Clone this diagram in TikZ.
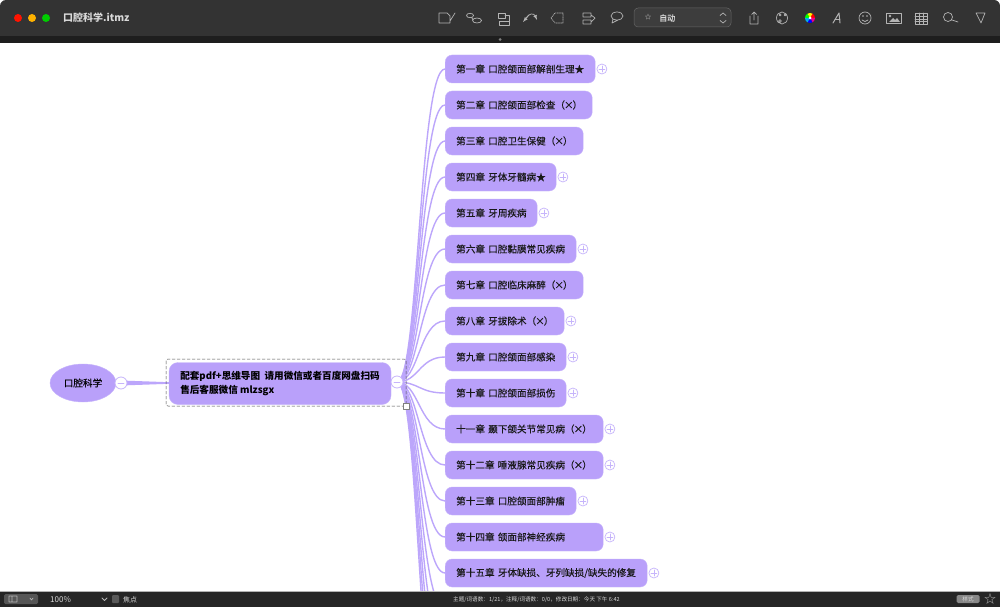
\documentclass[tikz,border=0pt]{standalone}
\usepackage{fontspec}
\usetikzlibrary{shapes.geometric}
\setmainfont{Noto Sans CJK SC}
\newfontfamily\topicfont[FakeBold=0.25]{Noto Sans CJK SC}
\def\crossmark{\kern-1pt ×\kern-1pt}
\definecolor{topicfill}{HTML}{B9A0FA}
\definecolor{topicedge}{HTML}{C6B4FB}
\definecolor{branchline}{HTML}{BCA6FB}
\definecolor{barcolor}{HTML}{333333}
\definecolor{sashcolor}{HTML}{1E1E1E}
\definecolor{footcolor}{HTML}{262626}
\definecolor{iconcolor}{HTML}{B4B4B4}
\tikzset{
  chapter/.style={draw=topicedge,fill=topicfill,rounded corners=7pt,minimum height=28pt,inner xsep=11pt,inner ysep=0pt,anchor=west,align=left,font=\topicfont\fontsize{9.6}{11}\selectfont,text=black!90},
  plusbtn/.style={circle,draw=topicedge,fill=white,line width=.7pt,minimum size=10pt,inner sep=0pt},
  minusbtn/.style={circle,draw=topicedge,fill=white,line width=.8pt,minimum size=12pt,inner sep=0pt},
  branch/.style={draw=branchline,line width=1.4pt},
  toolicon/.style={draw=iconcolor,line width=.7pt},
  barlabel/.style={text=white!85!black,inner sep=0pt}
}
\begin{document}
\begin{tikzpicture}[x=1pt,y=-1pt,line cap=round,line join=round]
  \useasboundingbox (0,0) rectangle (1000,607);
  \fill[white] (0,0) rectangle (1000,607);
  % mind map
  \node[draw=topicedge,fill=topicfill,ellipse,minimum width=66pt,minimum height=38pt,inner sep=0pt,font=\topicfont\fontsize{9.6}{11}\selectfont] (root) at (83,383) {口腔科学};
  \node[draw=topicedge,fill=topicfill,rounded corners=9pt,minimum width=222pt,minimum height=42pt,inner xsep=11pt,inner ysep=0pt,align=left,font=\fontsize{9.6}{14}\selectfont\bfseries] (central) at (280,383.5) {\mbox{配套pdf+思维导图\ \ 请用微信或者百度网盘扫码}\\售后客服微信 mlzsgx\hfill\null};
  \coordinate (hub) at (397,382);
  \coordinate (rootbtn) at (121,383);
  \fill[branchline] (rootbtn)++(0,-2.5) -- (169,382.2) -- (169,383.8) -- (121,385.5) -- cycle;
  \foreach \i/\y/\w/\more/\txt in {
    1/69/150/1/第一章 口腔颌面部解剖生理★,
    2/105/147/0/第二章 口腔颌面部检查（\crossmark）,
    3/141/138/0/第三章 口腔卫生保健（\crossmark）,
    4/177/111/1/第四章 牙体牙髓病★,
    5/213/92/1/第五章 牙周疾病,
    6/249/131/1/第六章 口腔黏膜常见疾病,
    7/285/138/0/第七章 口腔临床麻醉（\crossmark）,
    8/321/119/1/第八章 牙拔除术（\crossmark）,
    9/357/121/1/第九章 口腔颌面部感染,
    10/393/121/1/第十章 口腔颌面部损伤,
    11/429/158/1/十一章 颞下颌关节常见病（\crossmark）,
    12/465/158/1/第十二章 唾液腺常见疾病（\crossmark）,
    13/501/131/1/第十三章 口腔颌面部肿瘤,
    14/537/158/1/第十四章 颌面部神经疾病,
    15/573/202/1/{第十五章 牙体缺损、牙列缺损/缺失的修复}}
  {
    \node[chapter,text width=\w pt-22pt] (ch\i) at (445,\y) {\mbox{\raisebox{-1pt}{\txt}}};
    \draw[branch] (hub) .. controls (419,382) and (419,\y) .. (ch\i.west);
    \ifnum\more=1
      \node[plusbtn] (plus\i) at ([xshift=6.5pt]ch\i.east) {};
      \draw[topicedge,line width=.6pt] ([xshift=-3pt]plus\i.center) -- ([xshift=3pt]plus\i.center) ([yshift=-3pt]plus\i.center) -- ([yshift=3pt]plus\i.center);
    \fi
  }
  % chapters below the window
  \begin{scope}
    \clip (0,43) rectangle (1000,591);
    \foreach \i/\y in {16/609,17/645,18/681,19/717,20/753}{
      \coordinate (ch\i) at (445,\y);
      \draw[branch] (hub) .. controls (419,382) and (419,\y) .. (ch\i);
    }
  \end{scope}
  \draw[gray!60!black,densely dashed,line width=.5pt,rounded corners=2pt] (166,359) rectangle (406,406);
  \node[draw=gray,fill=white,minimum size=6pt,inner sep=0pt,line width=.6pt] (handle) at (406,406) {};
  \node[minusbtn] (btnroot) at (rootbtn) {};
  \draw[topicedge,line width=.7pt] (118,383) -- (124,383);
  \node[minusbtn] (btnhub) at (hub) {};
  \draw[topicedge,line width=.7pt] (394,382) -- (400,382);
  % title bar
  \fill[barcolor,rounded corners=6pt] (0,0) rectangle (1000,20);
  \fill[barcolor] (0,8) rectangle (1000,36);
  \fill[sashcolor] (0,36) rectangle (1000,43);
  \fill[gray] (500,39.5) circle (1.5);
  \fill[red!85!orange] (18,18) circle (4);
  \fill[orange!60!yellow] (32,18) circle (4);
  \fill[green!80!black] (46,18) circle (4);
  \node[barlabel,anchor=west,font=\fontsize{10}{12}\selectfont\bfseries] (title) at (63,18) {口腔科学.itmz};
  % tool icons
  \draw[toolicon] (439,13) -- (447,13) -- (450,16) -- (450,23) -- (439,23) -- cycle (450,21) -- (455,13);
  \draw[toolicon] (470,15.5) ellipse (3.5 and 2.2) (477,20.5) ellipse (4.5 and 2.5) (472,18) -- (473,20);
  \draw[toolicon] (498,13) rectangle (505,18) (499,21) rectangle (509,25) (505,15) -- (509,15) -- (509,21);
  \draw[toolicon,-latex] (526,18) .. controls (529,13) and (534,13) .. (537,20);
  \draw[toolicon,-latex] (529,15) -- (523,22);
  \draw[toolicon,densely dotted] (551,18) -- (555,13) -- (563,13) -- (563,23) -- (555,23) -- cycle;
  \draw[toolicon] (583,13) rectangle (591,17) (583,20) rectangle (591,24) (591,15) -- (595,18) -- (591,22);
  \draw[toolicon] (617,16) ellipse (6 and 4) (613,19) -- (612,23) -- (618,20);
  \draw[draw=white!25!barcolor,fill=white!5!barcolor,rounded corners=4pt,line width=.5pt] (634,8) rectangle (731,27);
  \node[barlabel,font=\fontsize{6.5}{7}\selectfont] (star) at (648,17) {☆};
  \node[barlabel,anchor=west,font=\topicfont\fontsize{8}{9}\selectfont] (auto) at (659,18) {自动};
  \draw[toolicon] (720,15.5) -- (723,13) -- (726,15.5) (720,20.5) -- (723,23) -- (726,20.5);
  \draw[toolicon] (750,16) -- (750,24) -- (758,24) -- (758,16) (754,20) -- (754,12) (751.5,14.5) -- (754,12) -- (756.5,14.5);
  \draw[toolicon] (782,18) ellipse (5.5 and 6) (780,15) circle (1) (785,15) circle (1) (780,21) circle (1.3);
  \foreach \a/\c in {0/red,60/magenta,120/blue,180/cyan,240/green,300/yellow}{
    \fill[\c] (810,18) -- ++(\a:5) arc[start angle=\a,delta angle=-60,radius=5] -- cycle;
  }
  \fill[white] (810,18) circle (1.5);
  \draw[toolicon,line width=1pt] (833,23) -- (839,13) -- (840,23);
  \draw[toolicon] (835,19) -- (840,19);
  \draw[toolicon] (865,18) circle (6) (862,20) .. controls (864,22) and (866,22) .. (868,20);
  \fill[iconcolor] (863,16) circle (.9) (867,16) circle (.9);
  \draw[toolicon] (886,13) rectangle (901,23);
  \fill[iconcolor] (889,22) -- (893,18) -- (895,20) -- (897,18) -- (900,22) -- cycle (890,16) circle (1.3);
  \draw[toolicon] (915,13) rectangle (927,24) (915,16) -- (927,16) (915,19) -- (927,19) (915,21.5) -- (927,21.5) (919,13) -- (919,24) (923,13) -- (923,24);
  \draw[toolicon] (948,17) circle (4.5) (952,20) -- (958,22);
  \draw[toolicon] (976,13) -- (985,13) -- (981,23) -- cycle;
  % status bar
  \fill[footcolor] (0,591) rectangle (1000,607);
  \draw[white!70!black,line width=.5pt] (0,591) -- (1000,591);
  \fill[white!22!footcolor,rounded corners=1.5pt] (4,594) rectangle (38,604);
  \draw[toolicon] (9,596) rectangle (17,602) (12,596) -- (12,602) (30,598) -- (31.5,600) -- (33,598);
  \node[barlabel,anchor=west,font=\fontsize{8}{9}\selectfont] (zoomtext) at (50,599.5) {100\%};
  \draw[toolicon,line width=.9pt] (102,598) -- (104.5,600.5) -- (107,598);
  \fill[gray!70!black,rounded corners=1pt] (112,595) rectangle (119,603);
  \node[barlabel,anchor=west,font=\fontsize{7}{8}\selectfont] (focus) at (123,599.5) {焦点};
  \node[barlabel,anchor=west,font=\fontsize{5.6}{7}\selectfont] (stats) at (453,599.5) {主题/词语数：1/21，注释/词语数：0/0，修改日期：今天 下午 6:42};
  \node[fill=white!45!footcolor,rounded corners=1.5pt,text=white!85!black,minimum width=23pt,minimum height=8pt,inner sep=0pt,font=\fontsize{5.6}{6}\selectfont] (stylebtn) at (968,599) {样式};
  \node[text=iconcolor,inner sep=0pt,font=\fontsize{12}{12}\selectfont] (favstar) at (990,599) {☆};
\end{tikzpicture}
\end{document}
